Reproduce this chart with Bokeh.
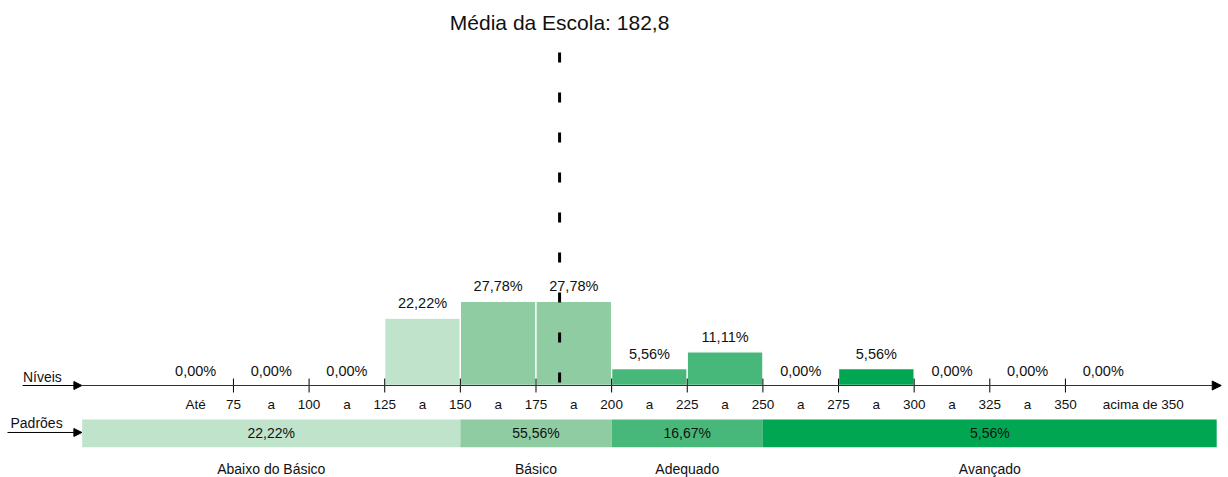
from bokeh.plotting import figure
from bokeh.models import Arrow, NormalHead, ColumnDataSource
from bokeh.core.properties import value
from bokeh.embed import file_html
from bokeh.resources import INLINE

# ---- data ----
bin_left = [50, 75, 100, 125, 150, 175, 200, 225, 250, 275, 300, 325, 350]
bin_right = [75, 100, 125, 150, 175, 200, 225, 250, 275, 300, 325, 350, 375]
bin_pct = [0.0, 0.0, 0.0, 22.22, 27.78, 27.78, 5.56, 11.11, 0.0, 5.56, 0.0, 0.0, 0.0]
bin_level = [0, 0, 0, 0, 1, 1, 2, 2, 3, 3, 3, 3, 3]
tick_values = [75, 100, 125, 150, 175, 200, 225, 250, 275, 300, 325, 350]
bin_words = ["Até", "a", "a", "a", "a", "a", "a", "a", "a", "a", "a", "a", "acima de 350"]
level_names = ["Abaixo do Básico", "Básico", "Adequado", "Avançado"]
level_left = [25, 150, 200, 250]
level_right = [150, 200, 250, 400]
level_pct = [22.22, 55.56, 16.67, 5.56]
level_colors = ["#c0e3cc", "#8fcca1", "#48b87a", "#00a651"]
school_mean = 182.8

def fmt(v, d=2):
    return f"{v:.{d}f}".replace(".", ",")

FONT = value("Liberation Sans")

W, H = 1228, 477
p = figure(width=W, height=H, x_range=(-2.0, 403.9), y_range=(-30.36, 127.06),
           output_backend="svg", toolbar_location=None, min_border=0,
           x_axis_location=None, y_axis_location=None)
p.outline_line_color = None
p.xgrid.visible = False
p.ygrid.visible = False
p.background_fill_color = "white"

# histogram bars
bars = ColumnDataSource(dict(
    x=[(a + b) / 2 for a, b in zip(bin_left, bin_right)],
    top=bin_pct,
    label=[fmt(v) + "%" for v in bin_pct],
))
nz = ColumnDataSource(dict(
    left=[l for l, v in zip(bin_left, bin_pct) if v > 0],
    right=[r for r, v in zip(bin_right, bin_pct) if v > 0],
    top=[v for v in bin_pct if v > 0],
    color=[level_colors[lv] for lv, v in zip(bin_level, bin_pct) if v > 0],
))
p.quad(left="left", right="right", top="top", bottom=0, fill_color="color",
       line_color="white", line_width=1.3, source=nz)

# axis line with arrow
p.add_layout(Arrow(x_start=25, y_start=0, x_end=401.5, y_end=0, line_color="#333333",
                   line_width=1,
                   end=NormalHead(size=9, fill_color="black", line_color="black")))
# ticks
p.segment(x0=tick_values, x1=tick_values, y0=[-2.3] * len(tick_values),
          y1=[2.3] * len(tick_values), line_color="black", line_width=1)

# bar labels
p.text(x="x", y="top", text="label", source=bars, text_font=FONT,
       text_font_size="14.5px", text_align="center", text_baseline="middle",
       y_offset=-15, text_color="#111111")

# tick labels
p.text(x=tick_values, y=[0] * len(tick_values), text=[str(t) for t in tick_values],
       text_font=FONT, text_font_size="13.5px", text_align="center",
       text_baseline="middle", y_offset=19, text_color="#111111")
word_x = [(a + b) / 2 for a, b in zip(bin_left, bin_right)]
p.text(x=word_x[:-1], y=[0] * (len(word_x) - 1), text=bin_words[:-1],
       text_font=FONT, text_font_size="13.5px", text_align="center",
       text_baseline="middle", y_offset=19, text_color="#111111")
p.text(x=[bin_left[-1] + 12.3], y=[0], text=[bin_words[-1]],
       text_font=FONT, text_font_size="13.5px", text_align="left",
       text_baseline="middle", y_offset=19, text_color="#111111")

# standards bar
lv = ColumnDataSource(dict(
    left=level_left, right=level_right, color=level_colors,
    x=[(a + b) / 2 for a, b in zip(level_left, level_right)],
    label=[fmt(v) + "%" for v in level_pct], name=level_names,
))
p.quad(left="left", right="right", top=-11.2, bottom=-20.4, fill_color="color",
       line_color=None, source=lv)
p.text(x="x", y=-15.8, text="label", source=lv, text_font=FONT,
       text_font_size="14px", text_align="center", text_baseline="middle",
       text_color="#111111")
p.text(x="x", y=-27.4, text="name", source=lv, text_font=FONT,
       text_font_size="14px", text_align="center", text_baseline="middle",
       text_color="#111111")

# side labels with arrows
p.text(x=[5.4], y=[0], text=["Níveis"], text_font=FONT, text_font_size="14px",
       text_align="left", text_baseline="middle", y_offset=-9, text_color="#111111")
p.add_layout(Arrow(x_start=5.3, y_start=0, x_end=24.9, y_end=0, line_color="black",
                   line_width=1,
                   end=NormalHead(size=8, fill_color="black", line_color="black")))
p.text(x=[1.3], y=[-15.5], text=["Padrões"], text_font=FONT, text_font_size="14px",
       text_align="left", text_baseline="middle", y_offset=-9, text_color="#111111")
p.add_layout(Arrow(x_start=0.3, y_start=-15.5, x_end=24.9, y_end=-15.5, line_color="black",
                   line_width=1,
                   end=NormalHead(size=8, fill_color="black", line_color="black")))

# school mean
p.segment(x0=[school_mean], x1=[school_mean], y0=[109.9], y1=[0], line_color="black",
          line_width=3, line_dash="10 30")
p.text(x=[school_mean], y=[119.8], text=["Média da Escola: " + fmt(school_mean, 1)],
       text_font=FONT, text_font_size="21px", text_align="center",
       text_baseline="middle", text_color="#111111")

open("out.html", "w").write(file_html(p, INLINE))
